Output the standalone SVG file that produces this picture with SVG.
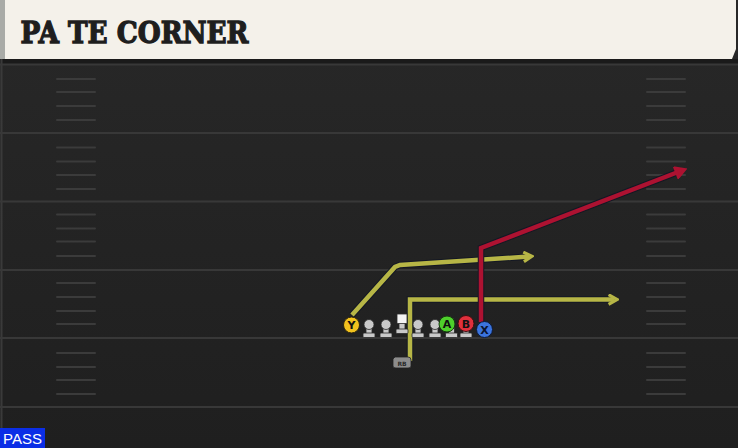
<svg xmlns="http://www.w3.org/2000/svg" width="738" height="448" viewBox="0 0 738 448">
<style>
.yl{stroke:#383838;stroke-width:2;fill:none}
.hm{stroke:#3b3b3b;stroke-width:2;stroke-linecap:round}
.rt-o{fill:none;stroke:#141824;stroke-width:6.5;stroke-linejoin:miter}
.rt-y{fill:none;stroke:#b7b646;stroke-width:4.5;stroke-linejoin:miter}
.rt-r{fill:none;stroke:#ad1231;stroke-width:4.5;stroke-linejoin:miter}
.ol{fill:#c9c9c9;stroke:#2a2a2a;stroke-width:0.8}
.lbl{font-family:"DejaVu Sans","Liberation Sans",sans-serif;font-weight:bold;font-size:11px;text-anchor:middle}
</style>
<defs>
<linearGradient id="fld" x1="0" y1="0" x2="0" y2="1">
<stop offset="0" stop-color="#282828"/>
<stop offset="1" stop-color="#1f1f1f"/>
</linearGradient>
<marker id="ay" viewBox="0 0 10 10" refX="6" refY="5" markerWidth="12" markerHeight="12" markerUnits="userSpaceOnUse" orient="auto">
<path d="M1.5,1 L8.5,5 L1.5,9" fill="none" stroke="#b7b646" stroke-width="2.6"/>
</marker>
<marker id="ar" viewBox="0 0 10 10" refX="6" refY="5" markerWidth="13" markerHeight="13" markerUnits="userSpaceOnUse" orient="auto">
<path d="M1.5,1 L8.5,5 L1.5,9 Z" fill="#ad1231" stroke="#ad1231" stroke-width="2"/>
</marker>
</defs>

<!-- field -->
<rect x="0" y="0" width="738" height="448" fill="url(#fld)"/>
<rect x="0" y="59" width="738" height="5" fill="#1a1a1a"/>
<line x1="1.5" y1="59" x2="1.5" y2="448" stroke="#3a3a3a" stroke-width="2"/>

<g id="yard-lines">
<line class="yl" x1="0" y1="64.5" x2="738" y2="64.5"/>
<line class="yl" x1="0" y1="133" x2="738" y2="133"/>
<line class="yl" x1="0" y1="201.5" x2="738" y2="201.5"/>
<line class="yl" x1="0" y1="270" x2="738" y2="270"/>
<line class="yl" x1="0" y1="338" x2="738" y2="338"/>
<line class="yl" x1="0" y1="407" x2="738" y2="407"/>
</g>

<g id="hash-marks">
<g id="hash-left">
<line class="hm" x1="57" y1="79" x2="95" y2="79"/>
<line class="hm" x1="57" y1="92" x2="95" y2="92"/>
<line class="hm" x1="57" y1="106" x2="95" y2="106"/>
<line class="hm" x1="57" y1="120" x2="95" y2="120"/>
<line class="hm" x1="57" y1="147.5" x2="95" y2="147.5"/>
<line class="hm" x1="57" y1="161.5" x2="95" y2="161.5"/>
<line class="hm" x1="57" y1="175" x2="95" y2="175"/>
<line class="hm" x1="57" y1="189" x2="95" y2="189"/>
<line class="hm" x1="57" y1="214.5" x2="95" y2="214.5"/>
<line class="hm" x1="57" y1="228.5" x2="95" y2="228.5"/>
<line class="hm" x1="57" y1="241.5" x2="95" y2="241.5"/>
<line class="hm" x1="57" y1="256" x2="95" y2="256"/>
<line class="hm" x1="57" y1="283" x2="95" y2="283"/>
<line class="hm" x1="57" y1="297" x2="95" y2="297"/>
<line class="hm" x1="57" y1="311" x2="95" y2="311"/>
<line class="hm" x1="57" y1="324" x2="95" y2="324"/>
<line class="hm" x1="57" y1="353" x2="95" y2="353"/>
<line class="hm" x1="57" y1="367" x2="95" y2="367"/>
<line class="hm" x1="57" y1="380" x2="95" y2="380"/>
<line class="hm" x1="57" y1="394" x2="95" y2="394"/>
</g>
<g id="hash-right">
<line class="hm" x1="647" y1="79" x2="685" y2="79"/>
<line class="hm" x1="647" y1="92" x2="685" y2="92"/>
<line class="hm" x1="647" y1="106" x2="685" y2="106"/>
<line class="hm" x1="647" y1="120" x2="685" y2="120"/>
<line class="hm" x1="647" y1="147.5" x2="685" y2="147.5"/>
<line class="hm" x1="647" y1="161.5" x2="685" y2="161.5"/>
<line class="hm" x1="647" y1="175" x2="685" y2="175"/>
<line class="hm" x1="647" y1="189" x2="685" y2="189"/>
<line class="hm" x1="647" y1="214.5" x2="685" y2="214.5"/>
<line class="hm" x1="647" y1="228.5" x2="685" y2="228.5"/>
<line class="hm" x1="647" y1="241.5" x2="685" y2="241.5"/>
<line class="hm" x1="647" y1="256" x2="685" y2="256"/>
<line class="hm" x1="647" y1="283" x2="685" y2="283"/>
<line class="hm" x1="647" y1="297" x2="685" y2="297"/>
<line class="hm" x1="647" y1="311" x2="685" y2="311"/>
<line class="hm" x1="647" y1="324" x2="685" y2="324"/>
<line class="hm" x1="647" y1="353" x2="685" y2="353"/>
<line class="hm" x1="647" y1="367" x2="685" y2="367"/>
<line class="hm" x1="647" y1="380" x2="685" y2="380"/>
<line class="hm" x1="647" y1="394" x2="685" y2="394"/>
</g>
</g>

<!-- header -->
<g id="header">
<path d="M0,0 H736 V49 L732,59 H0 Z" fill="#f4f1ea"/>
<rect x="0" y="0" width="5" height="59" fill="#a9aba7"/>
<text x="20.5" y="42.5" font-family="'DejaVu Serif','Liberation Serif',serif" font-weight="bold" font-size="29" fill="#1e1e1e" stroke="#1e1e1e" stroke-width="1.3" stroke-linejoin="miter" textLength="228" lengthAdjust="spacingAndGlyphs">PA TE CORNER</text>
</g>

<!-- routes -->
<g id="connectors">
<g id="route-y">
<path class="rt-o" d="M352,315 L395,267 L400,265 L529,256.5"/>
<path class="rt-y" d="M352,315 L395,267 L400,265 L529,256.5" marker-end="url(#ay)"/>
</g>
<g id="route-rb">
<path class="rt-o" d="M410,361 V299.5 H614"/>
<path class="rt-y" d="M410,361 V299.5 H614" marker-end="url(#ay)"/>
</g>
<g id="route-x">
<path class="rt-o" d="M481,322 V248 L682,170.5"/>
<path class="rt-r" d="M481,322 V248 L682,170.5" marker-end="url(#ar)"/>
</g>
</g>

<!-- players -->
<g id="player-ol1"><rect class="ol" x="366" y="326" width="6" height="8"/><circle class="ol" cx="369" cy="324.5" r="5"/><rect class="ol" x="363" y="333" width="12" height="4.5" rx="1"/></g>
<g id="player-ol2"><rect class="ol" x="383" y="326" width="6" height="8"/><circle class="ol" cx="386" cy="324.5" r="5"/><rect class="ol" x="380" y="333" width="12" height="4.5" rx="1"/></g>
<g id="player-c"><rect class="ol" x="399" y="322" width="6" height="8"/><rect class="ol" x="396" y="329" width="12" height="4.5" rx="1"/><rect x="397" y="314" width="10" height="9.5" fill="#f4f4f4" stroke="#2a2a2a" stroke-width="0.8"/></g>
<g id="player-ol4"><rect class="ol" x="415" y="326" width="6" height="8"/><circle class="ol" cx="418" cy="324.5" r="5"/><rect class="ol" x="412" y="333" width="12" height="4.5" rx="1"/></g>
<g id="player-ol5"><rect class="ol" x="432" y="326" width="6" height="8"/><circle class="ol" cx="435" cy="324.5" r="5"/><rect class="ol" x="429" y="333" width="12" height="4.5" rx="1"/></g>
<g id="player-t1"><rect class="ol" x="448.5" y="328" width="6" height="6"/><rect class="ol" x="445.5" y="333" width="12" height="4.5" rx="1"/></g>
<g id="player-t2"><rect class="ol" x="463" y="328" width="6" height="6"/><rect class="ol" x="460" y="333" width="12" height="4.5" rx="1"/></g>

<g id="player-y"><circle cx="351.5" cy="325" r="8" fill="#f2c21e" stroke="#2a2410" stroke-width="1"/><text class="lbl" x="351.5" y="329" fill="#111">Y</text></g>
<g id="player-a"><circle cx="447" cy="324" r="8" fill="#4fd02c" stroke="#163a10" stroke-width="1"/><text class="lbl" x="447" y="328" fill="#111">A</text></g>
<g id="player-b"><circle cx="466" cy="323.5" r="8" fill="#e0303c" stroke="#3a0c10" stroke-width="1"/><text class="lbl" x="466" y="327.5" fill="#111">B</text></g>
<g id="player-x"><circle cx="484.5" cy="329.5" r="8" fill="#3b74de" stroke="#0c1a3a" stroke-width="1"/><text class="lbl" x="484.5" y="333.5" fill="#0c1430">X</text></g>

<g id="player-rb">
<path d="M395,357 H408 Q411,357 411,360 V366 Q411,368 408,368 H396 Q393,368 393,366 V359 Z" fill="#8c8c8c" stroke="#222" stroke-width="0.8"/>
<text x="402" y="365.5" font-family="'DejaVu Sans','Liberation Sans',sans-serif" font-size="6" font-weight="bold" fill="#2a2a2a" text-anchor="middle">RB</text>
</g>

<!-- PASS badge -->
<g id="pass-badge">
<rect x="0" y="428" width="45" height="20" fill="#0b2ee6"/>
<text x="22.5" y="444" font-family="'Liberation Sans','DejaVu Sans',sans-serif" font-size="15" fill="#ffffff" text-anchor="middle">PASS</text>
</g>
</svg>
